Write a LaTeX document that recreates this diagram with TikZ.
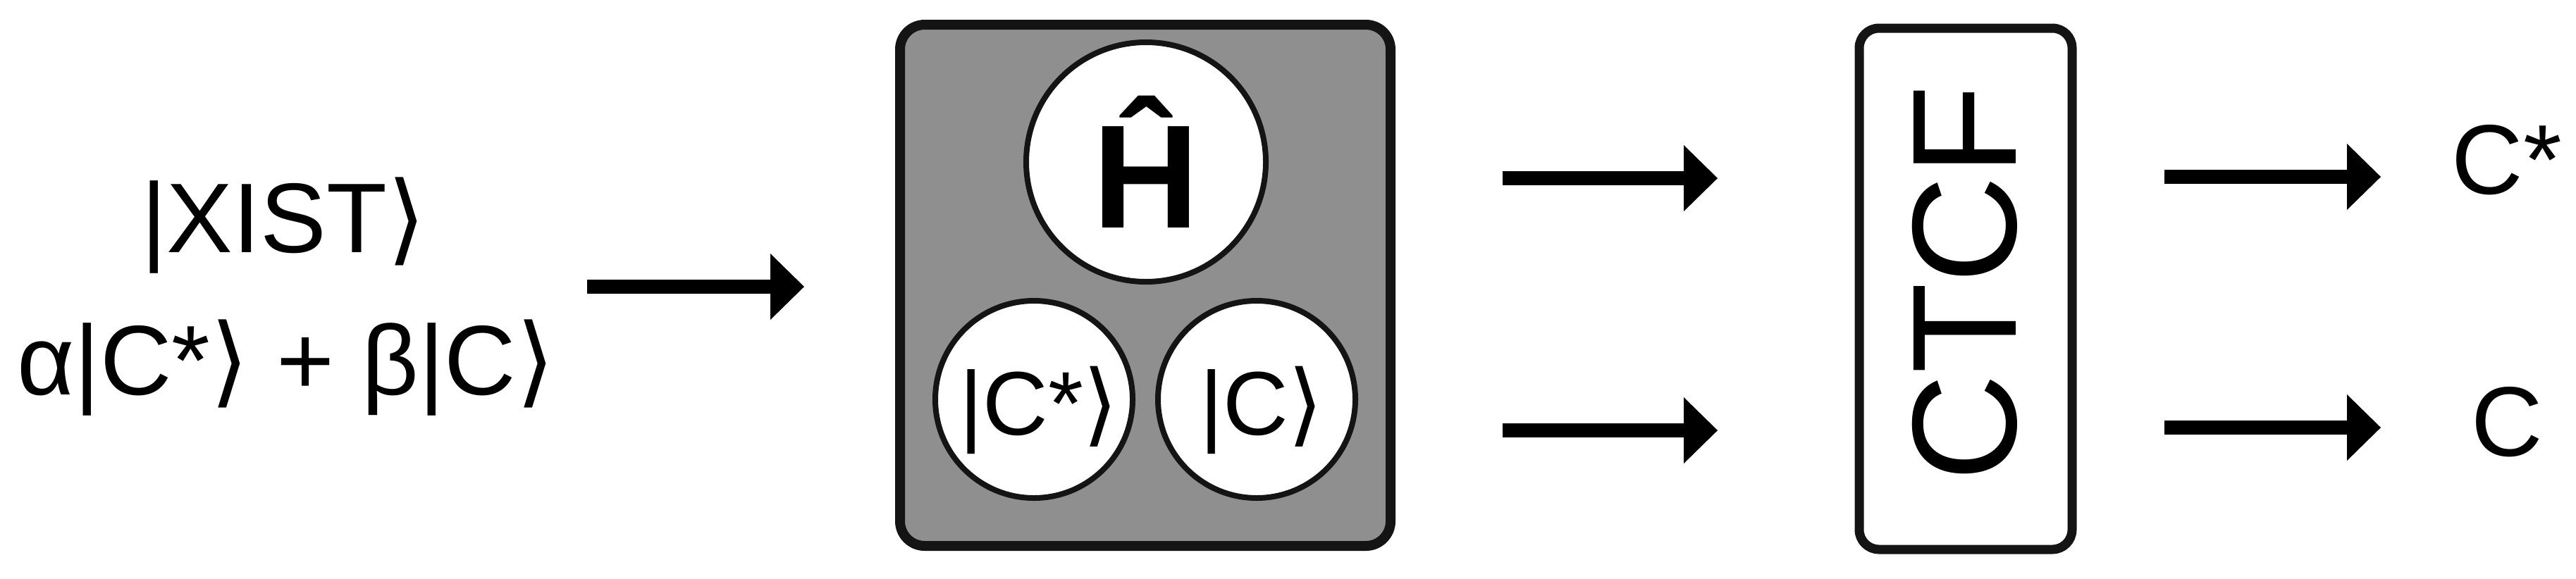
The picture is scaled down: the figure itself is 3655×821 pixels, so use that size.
\documentclass[tikz,border=0pt]{standalone}
\usepackage{fontspec}
\setmainfont{Liberation Sans}
\newfontfamily\symfont{DejaVu Sans}
\usetikzlibrary{arrows.meta}
\newcommand{\rket}{{\symfont ⟩}}
\definecolor{boxgray}{HTML}{8F8F8F}
\definecolor{edge}{HTML}{141414}
\tikzset{
  flow/.style={line width=2mm,-{Triangle[length=4.8mm,width=9.4mm,line width=0pt,fill=black]}},
  lbl/.style={inner sep=0pt,anchor=base,font=\fontsize{40}{48}\selectfont},
  ket/.style={circle,draw=edge,fill=white,line width=0.8mm,inner sep=0pt,minimum size=28mm},
  kettext/.style={inner sep=0pt,anchor=base,font=\fontsize{36.5}{44}\selectfont},
}
\begin{document}
\begin{tikzpicture}[x=0.1mm,y=-0.1mm]
\useasboundingbox (0,0) rectangle (3655,821);
\node[lbl] (xist) at (402,358) {|XIST\rket};
\node[lbl] (sup) at (406,560) {α|C*\rket\ + β|C\rket};
\node[draw=edge,fill=boxgray,line width=1.4mm,rounded corners=3.5mm,minimum width=69.6mm,minimum height=74mm] (ham) at (1625,405) {};
\node[ket,minimum size=34mm,font=\fontsize{59.5}{70}\selectfont\bfseries] (hat) at (1626,230) {Ĥ};
\node[ket] (cstar) at (1467,567) {};
\node[ket] (cket) at (1783,567) {};
\node[kettext] (cstarlbl) at (1474,617) {|C*\rket};
\node[kettext] (cketlbl) at (1790,617) {|C\rket};
\node[draw=edge,line width=1.3mm,rounded corners=2.8mm,minimum width=30.2mm,minimum height=74mm] (ctcf) at (2789,410) {};
\node[inner sep=0pt,rotate=90,font=\fontsize{60}{72}\selectfont] (ctcft) at (2788,402) {CTCF};
\node[lbl] (ostar) at (3557,275) {C*};
\node[lbl] (oc) at (3557,647) {C};
\coordinate (a0) at (833,407);
\coordinate (a1) at (1141,407);
\coordinate (b0) at (2132,253);
\coordinate (b1) at (2437,253);
\coordinate (c0) at (2132,611);
\coordinate (c1) at (2437,611);
\coordinate (d0) at (3071,251);
\coordinate (d1) at (3378,251);
\coordinate (e0) at (3071,607);
\coordinate (e1) at (3378,607);
\draw[flow] (a0) -- (a1);
\draw[flow] (b0) -- (b1);
\draw[flow] (c0) -- (c1);
\draw[flow] (d0) -- (d1);
\draw[flow] (e0) -- (e1);
\end{tikzpicture}
\end{document}
